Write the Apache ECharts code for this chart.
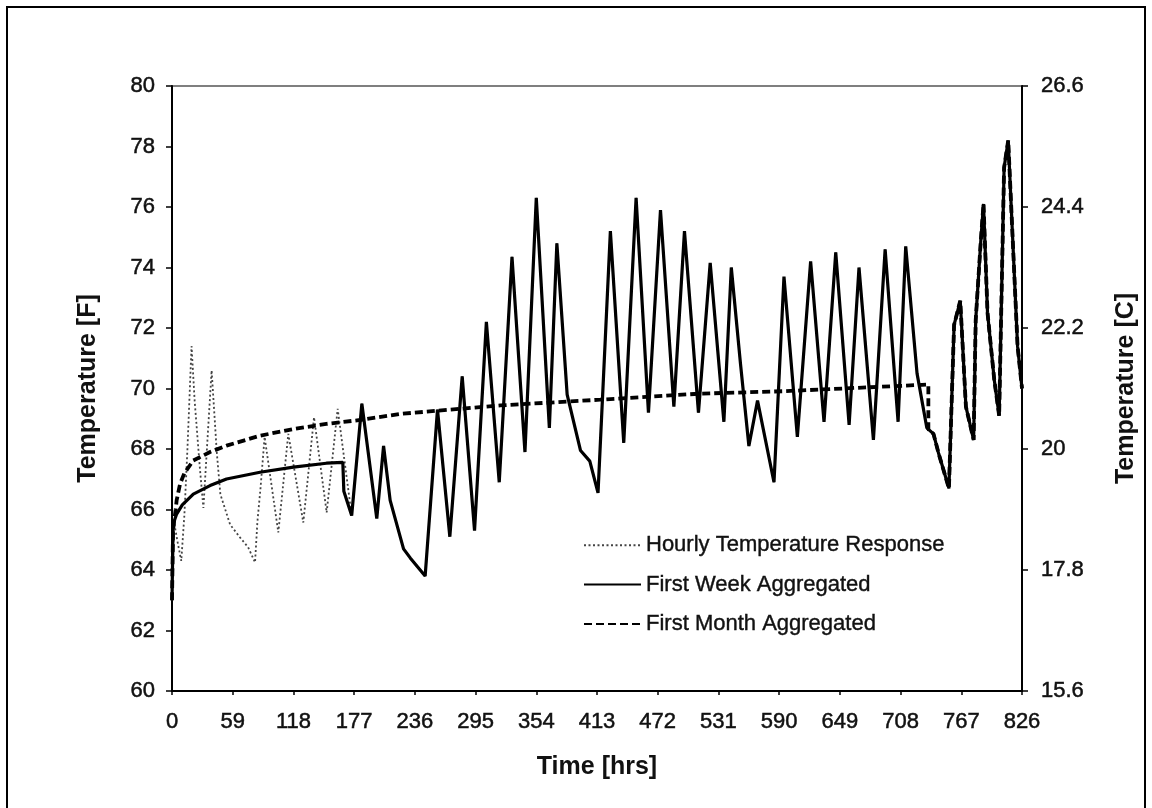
<!DOCTYPE html>
<html>
<head>
<meta charset="utf-8">
<title>Temperature response</title>
<script src="https://cdn.jsdelivr.net/npm/echarts@6/dist/echarts.min.js"></script>
<style>
  html, body { margin: 0; padding: 0; background: #fff; }
  #chart { width: 1152px; height: 808px; }
</style>
</head>
<body>
<div id="chart"></div>
<script>
// Hourly simulation, first week (before the runs share the same hourly response)
const hourlyEarly = [
  [0, 63.0], [2, 65.6], [5, 65.0], [9, 64.3], [12, 65.8], [15, 68.0], [19, 71.4],
  [22, 69.6], [27, 67.4], [30.5, 66.05], [38.5, 70.6], [43.5, 67.9], [47, 66.5],
  [56.5, 65.5], [66, 65.08], [74, 64.75], [80.7, 64.25], [83, 65.6], [86, 66.7],
  [90, 68.4], [103.3, 65.24], [113, 68.5], [127.6, 65.57], [138, 69.05],
  [150.3, 65.9], [161, 69.33]
];

// First-week aggregated load: smooth rise over hours 0-167
const weekEarly = [
  [0, 63.0], [1, 65.3], [2, 65.6], [4.5, 65.85], [10, 66.15], [20.7, 66.51],
  [37, 66.79], [53, 67.01], [85.5, 67.23], [118, 67.4], [150, 67.53],
  [166, 67.56], [167, 66.6]
];

// First-month aggregated load: smooth rise over hours 0-735
const monthEarly = [
  [0, 63.0], [1, 65.3], [2, 65.6], [3.6, 66.0], [4.5, 66.3], [7.8, 66.84],
  [12, 67.2], [20.7, 67.62], [37, 67.9], [53, 68.11], [85.5, 68.44],
  [118, 68.66], [150, 68.83], [183, 68.96], [221.6, 69.16], [319, 69.44],
  [416, 69.63], [513, 69.83], [594, 69.91], [735, 70.13], [735, 68.65]
];
const monthEnd = 735;

// Hourly response shared by all runs once the aggregation period is over
const laterResponse = [
  [174.6, 65.8], [184.5, 69.5], [199, 65.7], [205.6, 68.1], [212, 66.3],
  [225, 64.7], [231.5, 64.4], [246, 63.8], [258, 69.3], [270, 65.1],
  [282, 70.4], [294, 65.3], [305.5, 72.2], [318, 66.9], [330.4, 74.35],
  [343, 67.9], [354, 76.3], [366.7, 68.7], [374, 74.8], [384, 69.8],
  [397, 67.95], [406, 67.6], [414, 66.55], [426, 75.2], [439, 68.2],
  [451, 76.3], [463, 69.2], [474.7, 75.9], [487.7, 69.4], [498, 75.2],
  [511.6, 69.2], [523, 74.15], [536.3, 68.9], [543.5, 74.0], [552.5, 70.8],
  [560.6, 68.1], [569, 69.6], [585, 66.9], [594.7, 73.7], [607.7, 68.4],
  [620.6, 74.2], [633.6, 68.9], [645, 74.5], [658, 68.8], [667.6, 74.0],
  [681.6, 68.3], [693, 74.6], [705.6, 68.9], [713, 74.7], [724, 70.5],
  [733.5, 68.7], [740, 68.5], [745, 67.85], [755, 66.7], [760, 72.1],
  [766, 72.9], [771.5, 69.4], [779, 68.3], [781, 72.25], [786, 74.9],
  [788.6, 76.1], [792.5, 72.5], [799, 70.3], [803.8, 69.1], [808.6, 77.3],
  [812.6, 78.2], [821.7, 71.4], [826, 70.0]
];

// Axis ranges and tick labels
const timeRange = [0, 826];
const timeStep = 59;
const fahrenheitRange = [60, 80];
const fahrenheitStep = 2;
const celsiusTicks = [15.6, 17.8, 20, 22.2, 24.4, 26.6];

const seriesNames = [
  'Hourly Temperature Response',
  'First Week Aggregated',
  'First Month Aggregated'
];

const hourlyData = hourlyEarly.concat(laterResponse);
const weekData = weekEarly.concat(laterResponse);
const monthData = monthEarly.concat(laterResponse.filter(p => p[0] > monthEnd));

const FONT = '"Liberation Sans", Arial, Helvetica, sans-serif';
const tickText = {
  color: '#111', fontSize: 22, fontFamily: FONT,
  textBorderColor: '#111', textBorderWidth: 0.5
};
const titleText = { color: '#111', fontSize: 25, fontWeight: 'bold', fontFamily: FONT };

const chart = echarts.init(document.getElementById('chart'), null, { renderer: 'canvas' });

chart.setOption({
  animation: false,
  backgroundColor: '#fff',
  graphic: [{
    type: 'rect',
    shape: { x: 7, y: 7, width: 1138, height: 860 },
    style: { fill: 'none', stroke: '#000', lineWidth: 2 },
    silent: true
  }],
  grid: {
    left: 172, right: 130, top: 86, bottom: 117,
    show: true, borderColor: '#555', borderWidth: 1.5, backgroundColor: 'transparent'
  },
  legend: {
    orient: 'vertical',
    left: 578, top: 529,
    itemWidth: 57, itemHeight: 14, itemGap: 17,
    selectedMode: false,
    itemStyle: { opacity: 0 },
    textStyle: {
      color: '#111', fontSize: 22, fontFamily: FONT,
      textBorderColor: '#111', textBorderWidth: 0.4
    },
    data: seriesNames
  },
  xAxis: {
    type: 'value',
    min: timeRange[0], max: timeRange[1], interval: timeStep,
    name: 'Time [hrs]', nameLocation: 'middle', nameGap: 64,
    nameMoveOverlap: false,
    nameTextStyle: titleText,
    axisLine: { lineStyle: { color: '#000', width: 2 } },
    axisTick: { length: 4, lineStyle: { color: '#000', width: 1.5 } },
    axisLabel: Object.assign({ margin: 20, showMinLabel: true, showMaxLabel: true }, tickText),
    splitLine: { show: false }
  },
  yAxis: [{
    type: 'value',
    position: 'left',
    min: fahrenheitRange[0], max: fahrenheitRange[1], interval: fahrenheitStep,
    name: 'Temperature [F]', nameLocation: 'middle', nameRotate: 90, nameGap: 71,
    nameMoveOverlap: false,
    nameTextStyle: titleText,
    axisLine: { show: true, lineStyle: { color: '#000', width: 2 } },
    axisTick: { show: true, length: 6, lineStyle: { color: '#000', width: 1.5 } },
    axisLabel: Object.assign({ margin: 17 }, tickText),
    splitLine: { show: false }
  }, {
    type: 'value',
    position: 'right',
    min: celsiusTicks[0], max: celsiusTicks[celsiusTicks.length - 1],
    name: 'Temperature [C]', nameLocation: 'middle', nameRotate: 90, nameGap: 92,
    nameMoveOverlap: false,
    nameTextStyle: titleText,
    axisLine: { show: true, lineStyle: { color: '#000', width: 2 } },
    axisTick: { show: true, length: 6, customValues: celsiusTicks, lineStyle: { color: '#000', width: 1.5 } },
    axisLabel: Object.assign({ margin: 19, customValues: celsiusTicks }, tickText),
    splitLine: { show: false }
  }],
  series: [{
    name: seriesNames[0],
    type: 'line',
    yAxisIndex: 0,
    symbol: 'none',
    data: hourlyData,
    lineStyle: { color: '#444', width: 1.8, type: [2, 2.5] },
    itemStyle: { color: '#444' },
    z: 2
  }, {
    name: seriesNames[1],
    type: 'line',
    yAxisIndex: 0,
    symbol: 'none',
    data: weekData,
    lineStyle: { color: '#000', width: 3.2 },
    itemStyle: { color: '#000' },
    z: 3
  }, {
    name: seriesNames[2],
    type: 'line',
    yAxisIndex: 0,
    symbol: 'none',
    data: monthData,
    lineStyle: { color: '#000', width: 3.8, type: [8, 4] },
    itemStyle: { color: '#000' },
    z: 4
  }]
});
</script>
</body>
</html>
